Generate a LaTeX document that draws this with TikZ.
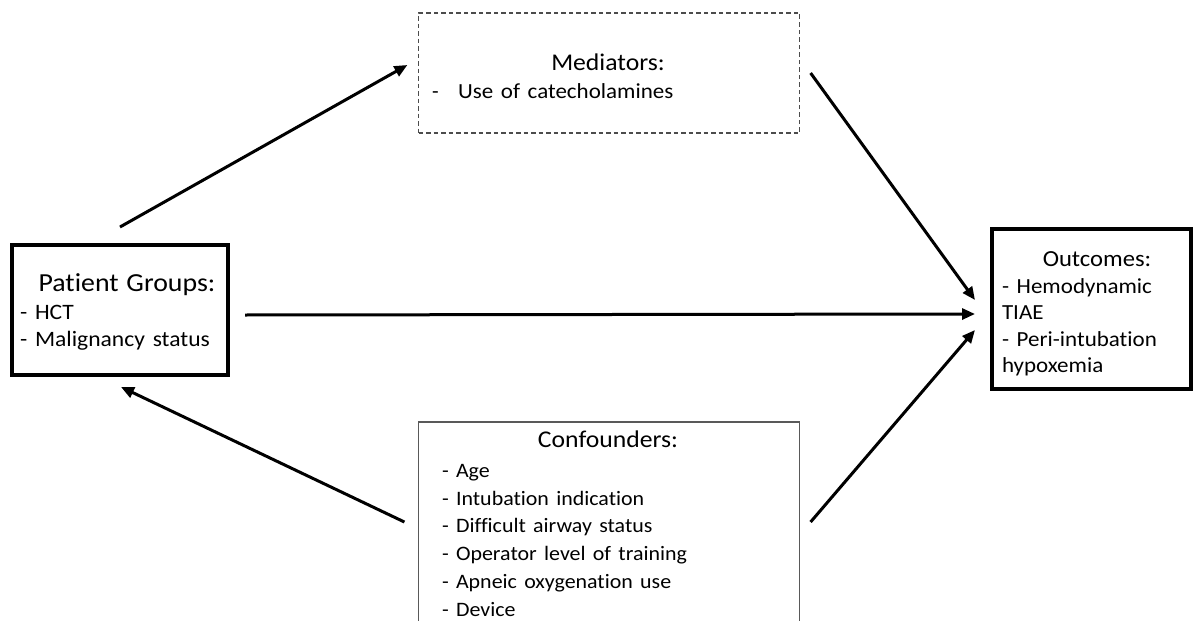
\documentclass[tikz,border=0pt]{standalone}
\usepackage{fontspec}
\usepackage{graphicx}
\setmainfont{Carlito}[Ligatures={NoCommon}]
\usetikzlibrary{arrows.meta}
\newcommand{\sx}[1]{\scalebox{1.07}[1]{#1}}
\newcommand{\hd}[2]{{\fontsize{#1}{#1}\selectfont\sx{#2}}}
\tikzset{
  boxthick/.style={draw=black, line width=4pt, rectangle, inner sep=0pt},
  boxthin/.style={draw=black!65, line width=1.2pt, rectangle, inner sep=0pt},
  boxdash/.style={draw=black!70, line width=1.2pt, rectangle, inner sep=0pt, dash pattern=on 4.5pt off 3pt},
  txt/.style={inner sep=0pt, align=left, text=black},
  conn/.style={line width=3pt, -{Triangle[length=13pt,width=11pt]}},
}
\begin{document}
\begin{tikzpicture}[x=1pt,y=-1pt]
\useasboundingbox (0,0) rectangle (1195,621);
\clip (0,0) rectangle (1195,621);
\fill[white] (0,0) rectangle (1195,621);
% boxes
\node[boxthick, minimum width=216pt, minimum height=130pt] (pg) at (120,310) {};
\node[boxthick, minimum width=199pt, minimum height=160pt] (out) at (1091.5,309) {};
\node[boxdash, minimum width=381pt, minimum height=120pt] (med) at (609,73) {};
\node[boxthin, minimum width=381pt, minimum height=218pt] (conf) at (609,531) {};
% texts
\node[txt, text width=214pt, font=\fontsize{22}{27}\selectfont] (pgt) at (127,312)
  {\makebox[214pt][c]{\hd{26}{Patient Groups:}}\\[1pt]\sx{- HCT}\\\sx{- Malignancy status}};
\node[txt, text width=190pt, font=\fontsize{21.5}{26.5}\selectfont] (outt) at (1097,314)
  {\makebox[190pt][c]{\hd{23}{Outcomes:}}\\\sx{- Hemodynamic}\\\sx{TIAE}\\\sx{- Peri-intubation}\\\sx{hypoxemia}};
\node[txt, text width=352pt, font=\fontsize{21.5}{28}\selectfont] (medt) at (608,76)
  {\makebox[352pt][c]{\hd{24}{Mediators:}}\\\makebox[26pt][l]{-}\sx{Use of catecholamines}};
\node[txt, text width=332pt, anchor=north, font=\fontsize{20.5}{27.7}\selectfont] (conft) at (608,430.5)
  {\makebox[332pt][c]{\hd{24}{Confounders:}}\\[2.5pt]\sx{- Age}\\\sx{- Intubation indication}\\\sx{- Difficult airway status}\\\sx{- Operator level of training}\\\sx{- Apneic oxygenation use}\\\sx{- Device}};
% connectors
\draw[conn] ([yshift=16pt]pg.north) -- ([xshift=-10.5pt,yshift=8pt]med.west);
\draw[conn] ([xshift=10.5pt]med.east) -- ([xshift=-15pt,yshift=9pt]out.west);
\draw[conn] ([xshift=15pt,yshift=-5pt]pg.east) -- ([xshift=-15pt,yshift=-5pt]out.west);
\draw[conn] ([xshift=10.5pt,yshift=9pt]conf.east) -- ([xshift=-15pt,yshift=-21pt]out.west);
\draw[conn] ([xshift=-13.5pt,yshift=9pt]conf.west) -- ([xshift=1pt,yshift=-10pt]pg.south);
\end{tikzpicture}
\end{document}
